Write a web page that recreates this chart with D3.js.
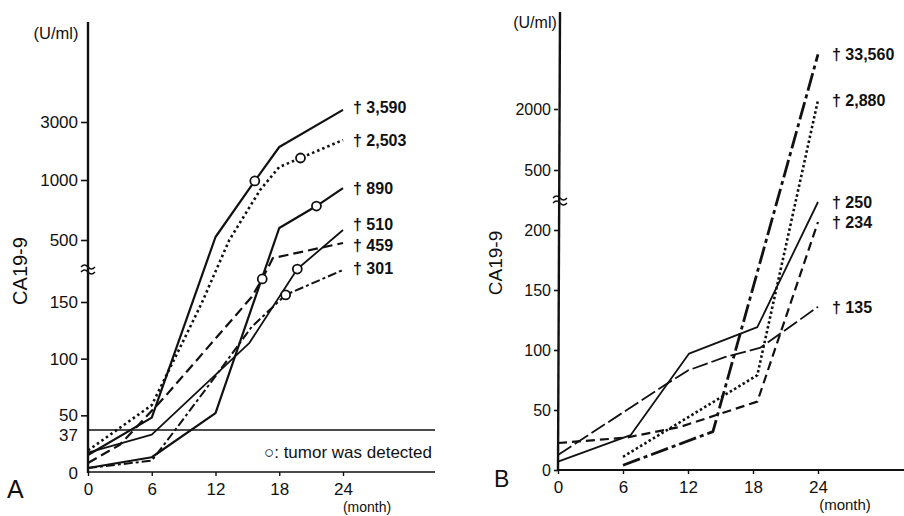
<!DOCTYPE html>
<html>
<head>
<meta charset="utf-8">
<script src="https://cdn.jsdelivr.net/npm/d3@7/dist/d3.min.js"></script>
<style>
  body { margin: 0; background: #fff; }
  text { font-family: "Liberation Sans", Arial, sans-serif; fill: #111; }
  .lab { font-weight: bold; }
</style>
</head>
<body>
<script>
// ---- data ----
const monthTicks = [0, 6, 12, 18, 24];

// panel A
const aTicks = [0, 50, 100, 150, 500, 1000, 3000];
const aCutoff = 37;
const aLabels = ["3,590", "2,503", "890", "510", "459", "301"];
const aMonths = [
  [0, 6, 12, 15.7, 18, 24],
  [0, 6, 9.3, 10.7, 13.3, 16.2, 18, 20, 24],
  [0, 6, 12, 18, 21.5, 24],
  [0, 6, 15.2, 19.7, 24],
  [0, 3, 7.2, 15.4, 16.4, 17.4, 24],
  [0, 6, 8.2, 12.2, 15.4, 18.6, 24]
];
const aValues = [
  [15, 48, 525, 992, 2138, 3590],
  [19, 59, 122, 149, 500, 917, 1448, 1759, 2379],
  [3.5, 13, 52, 600, 783, 933],
  [17, 33, 114, 336, 583],
  [8, 24, 66, 178, 280, 398, 483],
  [3.5, 10, 37, 87, 128, 190, 331]
];
// open circles: tumor was detected (month, value)
const aTumorMonths = [15.7, 20, 21.5, 19.7, 16.4, 18.6];
const aTumorValues = [992, 1759, 783, 336, 280, 190];

// panel B
const bTicks = [0, 50, 100, 150, 200, 500, 2000];
const bLabels = ["33,560", "2,880", "250", "234", "135"];
const bMonths = [
  [6, 14.3, 24],
  [6, 18.4, 24],
  [0, 6.7, 12.1, 18.4, 24],
  [0, 6.3, 11.3, 18.4, 24],
  [0, 9.9, 12, 15.4, 18.7, 24]
];
const bValues = [
  [4, 32, 33560],
  [11, 79, 2880],
  [7, 29, 97, 119, 340],
  [22.5, 27, 36, 57, 240],
  [12.5, 71, 83, 94, 102, 136]
];

// ---- drawing ----
const svg = d3.select("body").append("svg").attr("width", 904).attr("height", 516);

// broken axes: linear below the break, compressed above it
const xA = d3.scaleLinear().domain([0, 24]).range([88, 343]);
const yA = d3.scaleLinear().domain([0, 150, 500, 1000, 3000, 5000]).range([472, 302, 240, 180, 122, 81]);
const xB = d3.scaleLinear().domain([0, 24]).range([558, 818]);
const yB = d3.scaleLinear().domain([0, 200, 500, 2000, 3000, 40000]).range([470, 230, 170, 109, 99, 45]);

function yAxis(g, scale, ticks, size, pad, fs) {
  g.call(d3.axisLeft(scale).tickValues(ticks).tickSize(size).tickPadding(pad).tickFormat(d3.format("d")));
  g.select(".domain").remove();
  g.selectAll("line").attr("stroke", "#111").attr("stroke-width", 1.6);
  g.selectAll("text").attr("font-size", fs).attr("font-family", null);
}
function xAxis(g, scale, pad) {
  g.call(d3.axisBottom(scale).tickValues(monthTicks).tickSize(4).tickPadding(pad));
  g.select(".domain").remove();
  g.selectAll("line").attr("stroke", "#111").attr("stroke-width", 1.4);
  g.selectAll("text").attr("font-size", 17).attr("font-family", null);
}
function breakMark(x, y) {
  [0, 5].forEach(d => {
    svg.append("path")
      .attr("d", `M${x - 7},${y + d} q3.5,-4 7,0 t7,0`)
      .attr("fill", "none").attr("stroke", "#111").attr("stroke-width", 1.4);
  });
}

// ---------- panel A ----------
svg.append("g").attr("transform", "translate(88,0)").call(yAxis, yA, aTicks.filter(d => d !== 0), 7, 3, 17);
svg.append("text").attr("x", 78).attr("y", yA(0) + 7).attr("text-anchor", "end").attr("font-size", 17).text("0");
svg.append("text").attr("x", 78).attr("y", yA(aCutoff) + 11).attr("text-anchor", "end").attr("font-size", 17).text(aCutoff);
svg.append("g").attr("transform", "translate(0,472)").call(xAxis, xA, 7);

svg.append("line").attr("x1", 88).attr("x2", 88).attr("y1", 22).attr("y2", 473)
  .attr("stroke", "#111").attr("stroke-width", 2.4);
svg.append("line").attr("x1", 88).attr("x2", 435).attr("y1", 472).attr("y2", 472)
  .attr("stroke", "#111").attr("stroke-width", 1.6);
svg.append("line").attr("x1", 88).attr("x2", 435).attr("y1", yA(aCutoff)).attr("y2", yA(aCutoff))
  .attr("stroke", "#111").attr("stroke-width", 1.4);
breakMark(88, 267);

svg.append("text").attr("x", 56).attr("y", 39).attr("text-anchor", "middle").attr("font-size", 16.5).text("(U/ml)");
svg.append("text").attr("transform", "translate(27,271) rotate(-90)").attr("text-anchor", "middle")
  .attr("font-size", 20).text("CA19-9");
svg.append("text").attr("x", 367).attr("y", 512).attr("text-anchor", "middle").attr("font-size", 14).text("(month)");
svg.append("text").attr("x", 7).attr("y", 498).attr("font-size", 25).text("A");
svg.append("text").attr("x", 432).attr("y", 458).attr("text-anchor", "end").attr("font-size", 17)
  .text("○: tumor was detected");

const aDash = [null, "2.5,3", null, null, "10,5", "9,3,3,3"];
const aWidth = [2.2, 2.6, 2.2, 1.8, 2.2, 2];
const aLabelDy = [3, 6, 6, 0, 8, 4];
const lineA = d3.line().x(d => xA(d[0])).y(d => yA(d[1]));
aMonths.forEach((m, i) => {
  const pts = m.map((d, j) => [d, aValues[i][j]]);
  svg.append("path").attr("d", lineA(pts)).attr("fill", "none").attr("stroke", "#111")
    .attr("stroke-width", aWidth[i]).attr("stroke-dasharray", aDash[i]).attr("stroke-linejoin", "round");
  const last = pts[pts.length - 1];
  svg.append("text").attr("class", "lab").attr("x", xA(last[0]) + 10).attr("y", yA(last[1]) + aLabelDy[i])
    .attr("font-size", 16).attr("xml:space", "preserve").text("† " + aLabels[i]);
});
svg.selectAll("circle.tumor").data(aTumorMonths).join("circle").attr("class", "tumor")
  .attr("cx", d => xA(d)).attr("cy", (d, i) => yA(aTumorValues[i])).attr("r", 4.5)
  .attr("fill", "#fff").attr("stroke", "#111").attr("stroke-width", 1.8);

// ---------- panel B ----------
svg.append("g").attr("transform", "translate(558,0)").call(yAxis, yB, bTicks, 4, 3, 16);
svg.append("g").attr("transform", "translate(0,470)").call(xAxis, xB, 7);
svg.append("line").attr("x1", 560).attr("x2", 558).attr("y1", 12).attr("y2", 471)
  .attr("stroke", "#111").attr("stroke-width", 2.4);
svg.append("line").attr("x1", 558).attr("x2", 904).attr("y1", 470).attr("y2", 470)
  .attr("stroke", "#111").attr("stroke-width", 1.8);
breakMark(560, 198);

svg.append("text").attr("x", 535).attr("y", 28).attr("text-anchor", "middle").attr("font-size", 16).text("(U/ml)");
svg.append("text").attr("transform", "translate(502,263) rotate(-90)").attr("text-anchor", "middle")
  .attr("font-size", 19).text("CA19-9");
svg.append("text").attr("x", 845).attr("y", 510).attr("text-anchor", "middle").attr("font-size", 15).text("(month)");
svg.append("text").attr("x", 494).attr("y", 487).attr("font-size", 23).text("B");

const bDash = ["18,4,4,4", "2.5,2.5", null, "9,5", "16,4"];
const bWidth = [2.8, 2.6, 1.8, 2.2, 1.8];
const lineB = d3.line().x(d => xB(d[0])).y(d => yB(d[1]));
bMonths.forEach((m, i) => {
  const pts = m.map((d, j) => [d, bValues[i][j]]);
  svg.append("path").attr("d", lineB(pts)).attr("fill", "none").attr("stroke", "#111")
    .attr("stroke-width", bWidth[i]).attr("stroke-dasharray", bDash[i]).attr("stroke-linejoin", "round");
  const last = pts[pts.length - 1];
  svg.append("text").attr("class", "lab").attr("x", xB(last[0]) + 14).attr("y", yB(last[1]) + 6)
    .attr("font-size", 16).attr("xml:space", "preserve").text("† " + bLabels[i]);
});
</script>
</body>
</html>
